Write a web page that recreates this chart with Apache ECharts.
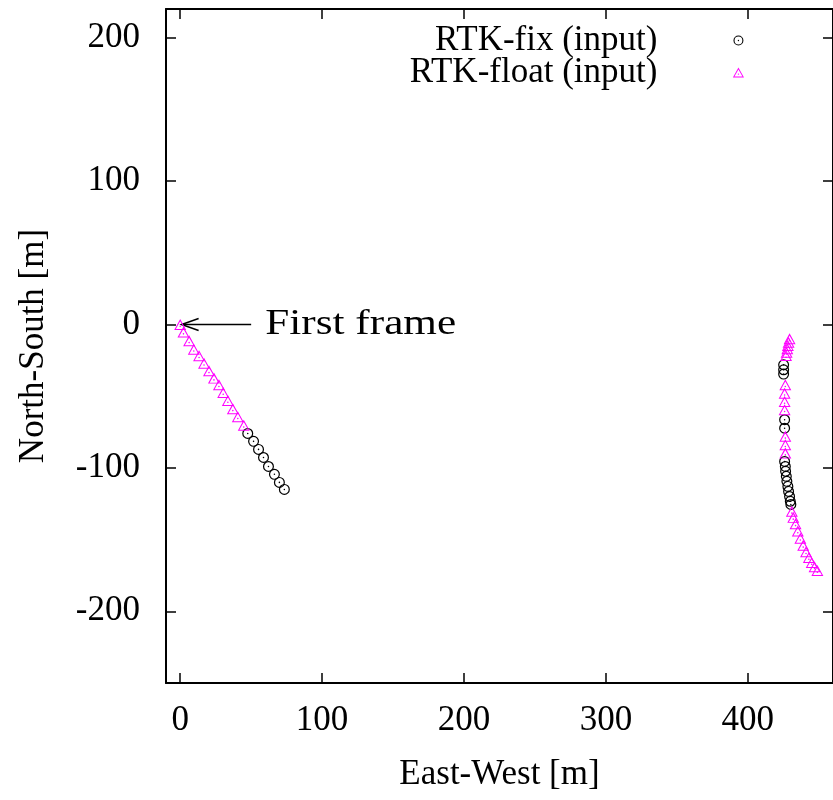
<!DOCTYPE html>
<html><head><meta charset="utf-8">
<script src="https://cdn.jsdelivr.net/npm/echarts@6/dist/echarts.min.js"></script>
<style>html,body{margin:0;padding:0;background:#fff}#c{width:833px;height:800px}</style>
</head><body><div id="c"></div>
<script>
// ---- data ----
const xTicks = [0, 100, 200, 300, 400];
const yTicks = [-200, -100, 0, 100, 200];
const seriesNames = ['RTK-fix (input)', 'RTK-float (input)'];

// RTK-fix points (East-West, North-South) in metres
const fixX = [47.6, 51.7, 55.2, 58.7, 62.2, 66.4, 69.9, 73.4,
  425.2, 425.2, 425.2, 425.9, 425.9,
  425.9, 426.4, 426.6, 427.1, 427.5, 428.2, 428.7, 429.4, 429.9, 430.3];
const fixY = [-76, -81.5, -87.1, -92.7, -99, -104.5, -110.1, -115,
  -28.1, -31.6, -34.6, -66.4, -72.3,
  -95.5, -99, -102.4, -105.9, -109.4, -112.9, -116.4, -119.9, -123.3, -125.5];

// RTK-float points
const floatX = [0, 2.3, 6.3, 9.6, 13.3, 16.8, 20.3, 23.8, 27.3, 30.3, 33.6, 37.1, 40.6, 44.8,
  429.4, 428.7, 428.2, 427.8, 427.3, 426.9,
  426.4, 425.9, 425.9, 425.9,
  426.4, 426.4, 426.4,
  431, 432, 433.6, 435.2, 437, 439, 441, 443, 445, 447, 449];
const floatY = [0, -5.3, -11.4, -17.2, -21.8, -27, -32.3, -37.4, -42, -47.4, -53, -58.8, -64.3, -70.2,
  -10, -12.3, -14.6, -16.9, -19.3, -21.6,
  -42, -47.9, -53.7, -59.4,
  -78, -83.8, -89.7,
  -130.3, -134.5, -139, -144, -149, -154, -158.5, -162.5, -166, -169, -171.5];

// annotation
const arrowTail = [50, 0];
const arrowTip = [1, 0];
const labelAt = [60, 0];
const labelText = 'First frame';

// ---- chart ----
const FONT = '"Liberation Serif", "Times New Roman", serif';
const FS = 35;
const circlePath = 'path://M10,0A10,10 0 1,1 10,20A10,10 0 1,1 10,0Z M10,2.2A7.8,7.8 0 1,0 10,17.8A7.8,7.8 0 1,0 10,2.2Z M10,8.6A1.4,1.4 0 1,1 10,11.4A1.4,1.4 0 1,1 10,8.6Z';
const triPath = 'path://M10,0L20,18L0,18Z M10,3.8L2.8,16.4L17.2,16.4Z M10,10.6A1.3,1.3 0 1,1 10,13.2A1.3,1.3 0 1,1 10,10.6Z';

const axisCommon = {
  type: 'value',
  axisLine: { show: true, onZero: false, lineStyle: { color: '#000', width: 2 } },
  splitLine: { show: false }
};
function mk(arrX, arrY) { return arrX.map((x, i) => [x, arrY[i]]); }

const chart = echarts.init(document.getElementById('c'), null, { renderer: 'canvas' });
const option = {
  animation: false,
  backgroundColor: '#fff',
  grid: { left: 166, top: 9, width: 673, height: 674, containLabel: false },
  legend: {
    orient: 'vertical', right: 89, top: 23, align: 'right',
    itemWidth: 152, itemHeight: 10, itemGap: -3, padding: 0,
    selectedMode: false,
    textStyle: { fontSize: FS, fontFamily: FONT, color: '#000' },
    data: seriesNames
  },
  xAxis: [
    Object.assign({}, axisCommon, {
      position: 'bottom', min: -10, max: 460,
      axisTick: { show: true, inside: true, length: 10, customValues: xTicks, lineStyle: { color: '#000', width: 1.5 } },
      axisLabel: { customValues: xTicks, color: '#000', fontSize: FS, fontFamily: FONT, margin: 20 },
      name: 'East-West [m]', nameLocation: 'middle', nameGap: 92,
      nameTextStyle: { color: '#000', fontSize: FS, fontFamily: FONT, verticalAlign: 'middle' }
    }),
    Object.assign({}, axisCommon, {
      position: 'top', min: -10, max: 460,
      axisTick: { show: true, inside: true, length: 10, customValues: xTicks, lineStyle: { color: '#000', width: 1.5 } },
      axisLabel: { show: false }
    })
  ],
  yAxis: [
    Object.assign({}, axisCommon, {
      position: 'left', min: -250, max: 220,
      axisTick: { show: true, inside: true, length: 10, customValues: yTicks, lineStyle: { color: '#000', width: 1.5 } },
      axisLabel: { customValues: yTicks, color: '#000', fontSize: FS, fontFamily: FONT, margin: 26 },
      name: 'North-South [m]', nameLocation: 'middle', nameGap: 132, nameRotate: 90,
      nameTextStyle: { color: '#000', fontSize: FS, fontFamily: FONT, verticalAlign: 'middle' }
    }),
    Object.assign({}, axisCommon, {
      position: 'right', min: -250, max: 220,
      axisTick: { show: true, inside: true, length: 10, customValues: yTicks, lineStyle: { color: '#000', width: 1.5 } },
      axisLabel: { show: false }
    })
  ],
  series: [
    {
      type: 'scatter', name: seriesNames[0], xAxisIndex: 0, yAxisIndex: 0,
      data: mk(fixX, fixY), symbol: circlePath, symbolSize: 11,
      itemStyle: { color: '#000', opacity: 1 }, emphasis: { disabled: true }
    },
    {
      type: 'scatter', name: seriesNames[1], xAxisIndex: 0, yAxisIndex: 0,
      data: mk(floatX, floatY), symbol: triPath, symbolSize: [12, 11],
      itemStyle: { color: '#ff00ff', opacity: 1 }, emphasis: { disabled: true }
    }
  ]
};
chart.setOption(option);

const tip = chart.convertToPixel({ xAxisIndex: 0, yAxisIndex: 0 }, arrowTip);
const tail = chart.convertToPixel({ xAxisIndex: 0, yAxisIndex: 0 }, arrowTail);
const lab = chart.convertToPixel({ xAxisIndex: 0, yAxisIndex: 0 }, labelAt);
chart.setOption({
  graphic: [
    { type: 'line', shape: { x1: tail[0], y1: tail[1], x2: tip[0], y2: tip[1] }, style: { stroke: '#000', lineWidth: 1.5 } },
    { type: 'polyline', shape: { points: [[tip[0] + 17, tip[1] - 6], [tip[0], tip[1]], [tip[0] + 17, tip[1] + 6]] }, style: { stroke: '#000', lineWidth: 1.5, fill: null } },
    { type: 'text', x: lab[0], y: lab[1], scaleX: 1.2, style: { text: labelText, fontSize: 36, fontFamily: FONT, fill: '#000', align: 'left', verticalAlign: 'middle' } }
  ]
});
</script>
</body></html>
